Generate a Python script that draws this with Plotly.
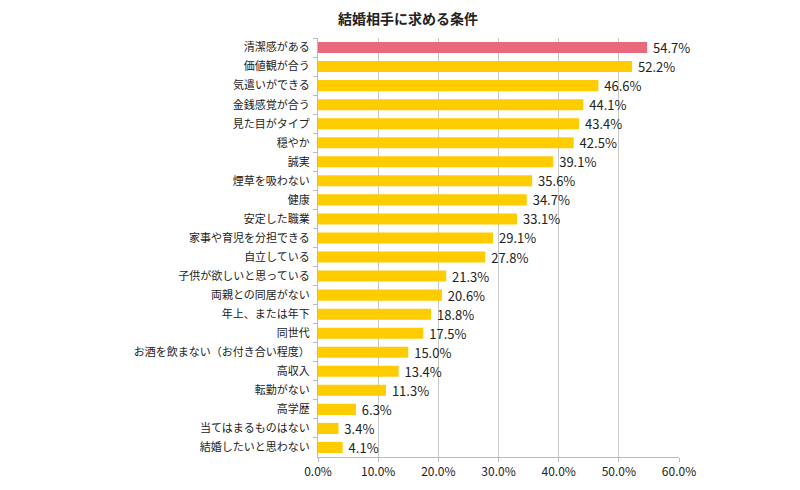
import plotly.graph_objects as go

categories = ["清潔感がある", "価値観が合う", "気遣いができる", "金銭感覚が合う", "見た目がタイプ",
              "穏やか", "誠実", "煙草を吸わない", "健康", "安定した職業",
              "家事や育児を分担できる", "自立している", "子供が欲しいと思っている", "両親との同居がない",
              "年上、または年下", "同世代", "お酒を飲まない（お付き合い程度）", "高収入", "転勤がない",
              "高学歴", "当てはまるものはない", "結婚したいと思わない"]
values = [54.7, 52.2, 46.6, 44.1, 43.4, 42.5, 39.1, 35.6, 34.7, 33.1,
          29.1, 27.8, 21.3, 20.6, 18.8, 17.5, 15.0, 13.4, 11.3, 6.3, 3.4, 4.1]
tick_vals = [0, 10, 20, 30, 40, 50, 60]
tick_text = ["0.0%", "10.0%", "20.0%", "30.0%", "40.0%", "50.0%", "60.0%"]

colors = ["#E8697B"] + ["#FFCC00"] * (len(values) - 1)
font = "Noto Sans CJK JP, Noto Sans, sans-serif"

fig = go.Figure(go.Bar(
    x=values, y=categories, orientation="h",
    marker=dict(color=colors, line=dict(width=0)),
    text=[f" {v:.1f}%" for v in values], textposition="outside",
    constraintext="none",
    textfont=dict(size=13, color="#222222", family=font),
    cliponaxis=False, width=0.58,
))

fig.update_layout(
    width=800, height=490,
    margin=dict(l=310, r=129, t=30, b=41, autoexpand=False),
    paper_bgcolor="white", plot_bgcolor="white",
    showlegend=False,
    title=dict(text="<b>結婚相手に求める条件</b>", x=400/800, xanchor="center",
               y=1 - 11/490, yanchor="middle",
               font=dict(size=14, color="#222222", family=font)),
    font=dict(family=font, size=11, color="#333333"),
)
fig.update_xaxes(range=[0, 60], tickvals=tick_vals, ticktext=tick_text,
                 showgrid=True, gridcolor="#C8C8C8", gridwidth=1,
                 showline=True, linecolor="#BBBBBB", mirror=False,
                 ticks="outside", ticklen=4, tickcolor="#BBBBBB", automargin=False,
                 tickfont=dict(size=12, color="#222222", family=font), zeroline=False)
fig.update_yaxes(autorange="reversed", showline=True, linecolor="#BBBBBB",
                 ticks="outside", ticklen=4, tickcolor="#BBBBBB", tickson="boundaries",
                 ticklabelstandoff=5, automargin=False,
                 tickfont=dict(size=11, color="#222222", family=font), showgrid=False)

fig.write_html("out.html")
